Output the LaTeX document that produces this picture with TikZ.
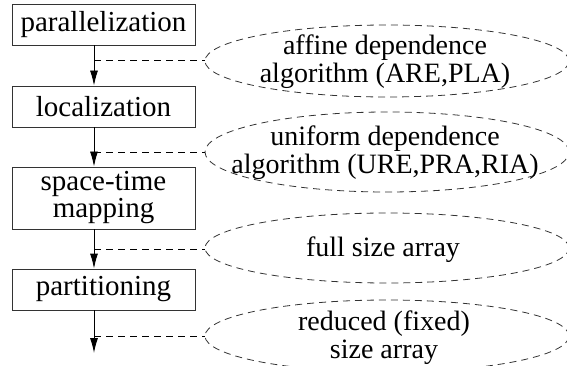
\documentclass[tikz,border=0pt]{standalone}
\usepackage{fontspec}
\setmainfont{Liberation Serif}
\usetikzlibrary{shapes.geometric,arrows.meta}
\tikzset{
  stage/.style={draw=black!80, line width=0.9pt, minimum width=183pt, inner sep=0pt,
    align=center, font=\fontsize{29}{27}\selectfont},
  flow/.style={line width=0.9pt, -{Latex[length=15pt,width=8pt]}},
  oval/.style={ellipse, draw=black!80, line width=0.8pt, dash pattern=on 7pt off 5pt,
    minimum width=364pt, inner sep=0pt},
  ovaltext/.style={align=center, inner sep=0pt, font=\fontsize{28}{28}\selectfont},
  link/.style={line width=0.8pt, dash pattern=on 7pt off 5pt}
}
\begin{document}
\begin{tikzpicture}[x=1pt,y=-1pt]
\useasboundingbox (0,0) rectangle (567,366);
% processing stages
\node[stage, minimum height=41pt] (par) at (103.5,24.5) {parallelization};
\node[stage, minimum height=41pt] (loc) at (103.5,106.5) {localization};
\node[stage, minimum height=62pt] (stm) at (103.5,198) {space-time\\mapping};
\node[stage, minimum height=41pt] (prt) at (103.5,289.5) {partitioning};
\coordinate (out) at (94,353);
% flow between the stages
\draw[flow] (par.south -| 94,0) -- (loc.north -| 94,0);
\draw[flow] (loc.south -| 94,0) -- (stm.north -| 94,0);
\draw[flow] (stm.south -| 94,0) -- (prt.north -| 94,0);
\draw[flow] (prt.south -| 94,0) -- (out);
% intermediate representations
\node[oval, minimum height=72pt] (e1) at (387,61) {};
\node[oval, minimum height=80pt] (e2) at (387,152) {};
\node[oval, minimum height=70pt] (e3) at (387,248) {};
\node[oval, minimum height=72pt] (e4) at (387,336) {};
\node[ovaltext] at (385,62) {affine dependence\\algorithm (ARE,PLA)};
\node[ovaltext] at (385,153) {uniform dependence\\algorithm (URE,PRA,RIA)};
\node[ovaltext] at (383,250) {full size array};
\node[ovaltext] at (384,338) {reduced (fixed)\\size array};
% taps from the flow to the representations
\coordinate (t1) at (94,60);
\coordinate (t2) at (94,152);
\coordinate (t3) at (94,249);
\coordinate (t4) at (94,336);
\draw[link] (t1) -- (e1.west |- t1);
\draw[link] (t2) -- (e2.west);
\draw[link] (t3) -- (e3.west |- t3);
\draw[link] (t4) -- (e4.west);
\end{tikzpicture}
\end{document}
